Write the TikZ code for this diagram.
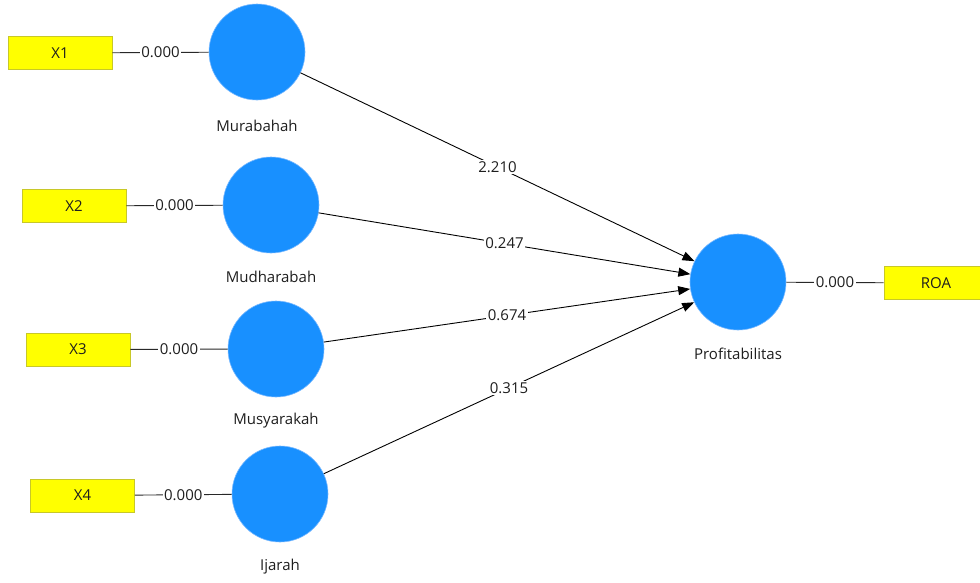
\documentclass[tikz,border=0pt]{standalone}
\usepackage{fontspec}
\setmainfont{Open Sans}
\usetikzlibrary{arrows.meta}
\definecolor{lvblue}{RGB}{24,144,255}
\definecolor{lvedge}{RGB}{120,185,255}
\definecolor{mvyellow}{RGB}{255,255,0}
\definecolor{mvedge}{RGB}{200,200,40}
\definecolor{linegray}{RGB}{40,40,40}
\definecolor{txt}{RGB}{30,30,30}
\begin{document}
\begin{tikzpicture}[x=1pt,y=-1pt,
  lv/.style={circle,fill=lvblue,draw=lvedge,line width=0.6pt,minimum size=96pt,inner sep=0pt},
  mv/.style={rectangle,fill=mvyellow,draw=mvedge,line width=0.8pt,minimum width=104pt,minimum height=33pt,inner sep=0pt,font=\fontsize{15}{17}\selectfont,text=txt},
  lbl/.style={font=\fontsize{15}{17}\selectfont,text=txt,inner sep=0pt},
  val/.style={fill=white,inner sep=1.5pt,font=\fontsize{15}{17}\selectfont,text=txt},
  ld/.style={draw=linegray,line width=0.9pt},
  pth/.style={draw=black,line width=0.9pt,-{Triangle[length=12pt,width=9pt]}}]
\useasboundingbox (0,0) rectangle (980,582);
\fill[white] (0,0) rectangle (980,582);
% latent variables
\node[lv] (mur) at (257,52) {};
\node[lv] (mud) at (271,205) {};
\node[lv] (mus) at (276,349) {};
\node[lv] (ija) at (280,494) {};
\node[lv] (pro) at (738,282) {};
% labels
\node[lbl] (murl) at (257,126) {Murabahah};
\node[lbl] (mudl) at (271,277) {Mudharabah};
\node[lbl] (musl) at (276,421) {Musyarakah};
\node[lbl] (ijal) at (280,567) {Ijarah};
\node[lbl] (prol) at (738,354) {Profitabilitas};
% indicators
\node[mv] (x1) at (60,53) {X1};
\node[mv] (x2) at (74,206) {X2};
\node[mv] (x3) at (78,349.5) {X3};
\node[mv] (x4) at (82.5,495.5) {X4};
\node[mv] (roa) at (936,283) {ROA};
% loadings
\draw[ld] (x1) -- node[val]{0.000} (mur);
\draw[ld] (x2) -- node[val]{0.000} (mud);
\draw[ld] (x3) -- node[val]{0.000} (mus);
\draw[ld] (x4) -- node[val]{0.000} (ija);
\draw[ld] (pro) -- node[val]{0.000} (roa);
% paths
\draw[pth] (mur) -- node[val]{2.210} (pro);
\draw[pth] (mud) -- node[val]{0.247} (pro);
\draw[pth] (mus) -- node[val]{0.674} (pro);
\draw[pth] (ija) -- node[val]{0.315} (pro);
\end{tikzpicture}
\end{document}
